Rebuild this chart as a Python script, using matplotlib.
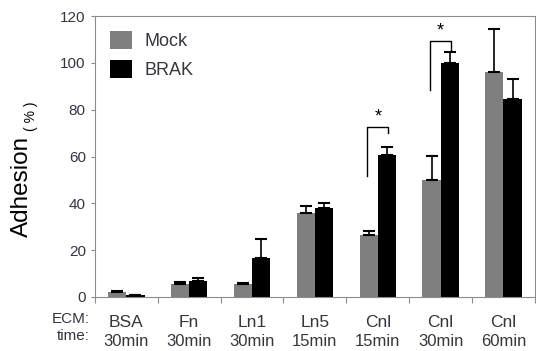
import numpy as np
import matplotlib.pyplot as plt
import matplotlib.transforms as mtransforms

plt.rcParams['font.family'] = ['Liberation Sans', 'DejaVu Sans']

# data
ecm = ["BSA", "Fn", "Ln1", "Ln5", "Cnl", "Cnl", "Cnl"]
times = ["30min", "30min", "30min", "15min", "15min", "30min", "60min"]
mock = [2.1, 5.5, 5.7, 35.9, 26.6, 50.0, 96.0]
mock_err = [0.3, 0.9, 0.3, 3.1, 1.6, 10.3, 18.3]
brak = [0.7, 7.0, 16.7, 38.0, 60.5, 99.8, 84.4]
brak_err = [0.3, 1.1, 8.2, 2.0, 3.7, 4.9, 8.6]
yticks = [0, 20, 40, 60, 80, 100, 120]

# significance brackets: group index, top, left leg bottom, right leg bottom
sig = [(4, 72.7, 51.5, 70.0), (5, 109.4, 88.3, 105.0)]

w = 0.29
x = np.arange(len(ecm)) + 0.5
txt = '#3a3340'
spine = '#8c8c8c'

fig = plt.figure(figsize=(5.36, 3.51), dpi=100)
ax = fig.add_axes([0.177, 0.154, 0.821, 0.8])

ax.bar(x - w / 2, mock, w, color='#7f7f7f', label='Mock')
ax.bar(x + w / 2, brak, w, color='black', label='BRAK')
ax.errorbar(x - w / 2, mock, yerr=[np.zeros(len(mock)), mock_err], fmt='none',
            ecolor='black', elinewidth=1.2, capsize=4, capthick=1.5)
ax.errorbar(x + w / 2, brak, yerr=[np.zeros(len(brak)), brak_err], fmt='none',
            ecolor='black', elinewidth=1.2, capsize=4, capthick=1.5)

for i, top, lb, rb in sig:
    xl = x[i] - w / 2 - 0.02
    xr = x[i] + w / 2 + 0.02
    ax.plot([xl, xl, xr, xr], [lb, top, top, rb], color='black', lw=1)
    ax.text((xl + xr) / 2, top + 0.5, '*', ha='center', va='bottom', fontsize=13)

ax.set_xlim(0, len(ecm))
ax.set_ylim(0, 120)
ax.set_yticks(yticks)
ax.set_xticks(np.arange(len(ecm) + 1))
ax.set_xticklabels([])
ax.tick_params(axis='y', labelsize=11, labelcolor=txt, color=spine, length=3)
ax.tick_params(axis='x', color=spine, length=4)
for s in ax.spines.values():
    s.set_color(spine)

trans = mtransforms.blended_transform_factory(ax.transData, ax.transAxes)
for xi, e, t in zip(x, ecm, times):
    ax.text(xi, -0.0925, e, transform=trans, ha='center', va='center', fontsize=12.5, color=txt)
    ax.text(xi, -0.157, t, transform=trans, ha='center', va='center', fontsize=12, color=txt)
ax.text(-0.012, -0.078, 'ECM:', transform=ax.transAxes, ha='right', va='center', fontsize=11, color=txt)
ax.text(-0.012, -0.139, 'time:', transform=ax.transAxes, ha='right', va='center', fontsize=11, color=txt)

fig.text(22 / 536, 1 - 186 / 351, 'Adhesion', rotation=90, ha='center', va='center', fontsize=17.5)
fig.text(31 / 536, 1 - 116 / 351, '( % )', rotation=90, ha='center', va='center', fontsize=10)

leg = ax.legend(loc='upper left', frameon=False, fontsize=13, handlelength=1.2,
                handleheight=1.1, handletextpad=0.7, labelspacing=0.55, borderaxespad=0.45)
for t in leg.get_texts():
    t.set_color(txt)

fig.savefig('out.png', dpi=100)
